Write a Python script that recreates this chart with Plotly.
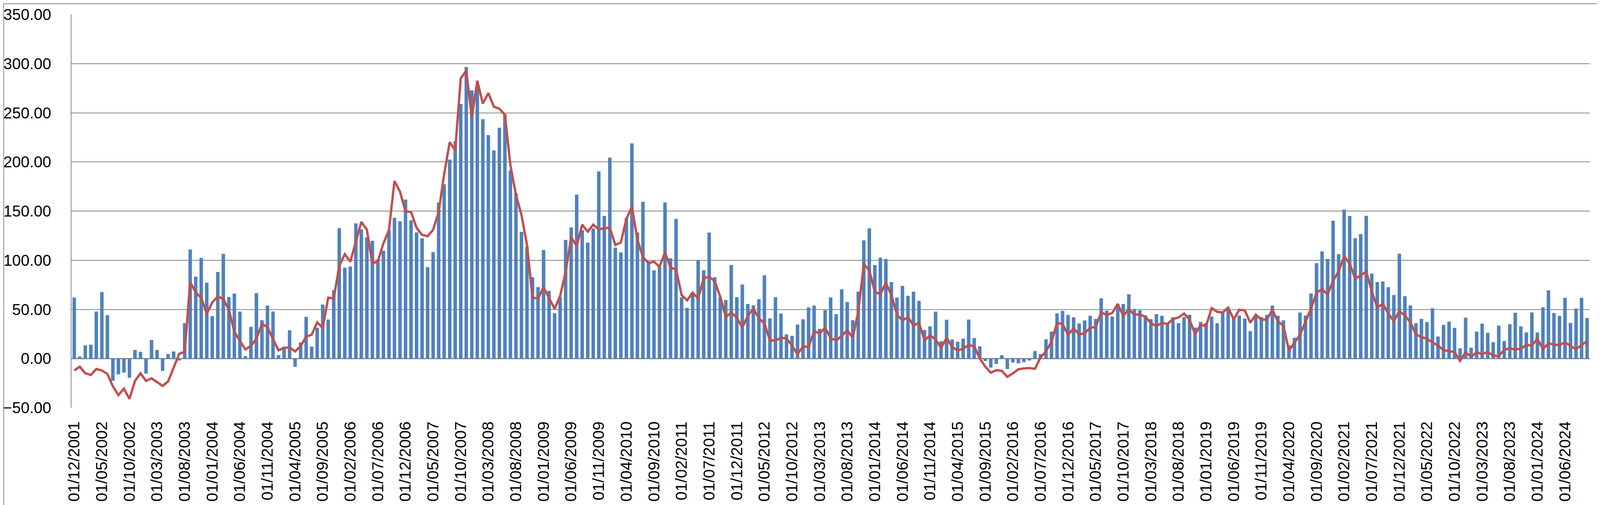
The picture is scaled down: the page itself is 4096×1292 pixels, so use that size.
import plotly.graph_objects as go

# Monthly categories 01/12/2001 .. 01/10/2024
start_year, start_month, n_months = 2001, 12, 275
categories = []
y, m = start_year, start_month
for _ in range(n_months):
    categories.append(f"01/{m:02d}/{y}")
    m += 1
    if m > 12:
        m = 1
        y += 1

bar_values = [
    62, 2.1, 13.4, 14, 47.8, 67.6, 44.1, -22.6, -16.1, -14.3,
    -19.6, 8.7, 6.8, -15.3, 18.9, 8.7, -12.6, 4.6, 7.2, -2,
    35.9, 110.9, 83.3, 102.3, 77.1, 43.1, 88.1, 106.6, 62.6, 66.1,
    47.7, 2.4, 32.2, 66.5, 39, 53.9, 47.9, 3.5, 12.2, 28.7,
    -8.4, 16.4, 42.4, 12.2, 31.3, 54.9, 39.7, 69.5, 132.6, 92.4,
    93.6, 137.5, 131.4, 123.4, 119.8, 100.7, 109.6, 130.6, 143.1, 139.6,
    161.7, 140.6, 128.3, 122.3, 92.9, 108.3, 158.6, 177.3, 202.4, 221,
    258.9, 296.5, 272.9, 277, 243.4, 227.3, 211.7, 234.8, 248.4, 191.5,
    168, 128.9, 113.5, 82.7, 72.7, 110.3, 68.8, 46.1, 62.4, 120.7,
    133.4, 166.7, 130.5, 117.9, 132.3, 190.4, 145, 204.4, 112.8, 108,
    142.6, 218.9, 128.2, 159.4, 98.9, 89.7, 93, 158.7, 102, 142,
    62.3, 51.5, 66, 100, 89.8, 128.1, 82.7, 62.5, 59.5, 95.1,
    62.3, 75.2, 55.6, 54.1, 60.3, 84.7, 40.9, 62.3, 45.7, 24.6,
    23.1, 34.6, 39.9, 52, 53.9, 30.2, 49.2, 62.1, 45.1, 70.4,
    57.5, 39, 68.1, 120.3, 132.4, 95, 102.6, 101.3, 77.7, 62,
    73.9, 63.8, 68, 58.6, 29, 32.7, 47.7, 17.6, 39.5, 19.4,
    17.1, 20.3, 39.7, 20.8, 12.4, -2.5, -9.2, -5.5, 3.4, -10.7,
    -4, -4.8, -3.7, -2, 7.6, 4.6, 19.6, 27.4, 45.9, 48.4,
    44.3, 41.9, 35.7, 38.8, 43.4, 40.3, 61.2, 48.8, 42.6, 55.5,
    55.5, 65.4, 50.4, 49.1, 43.8, 40.1, 45.1, 43.4, 35, 41.9,
    36, 42.1, 44.5, 31.5, 37.3, 36, 42.7, 36, 46.8, 50.7,
    41, 43.7, 40.7, 27.9, 44.6, 42.2, 44.4, 53.8, 43.5, 38.9,
    13.5, 21.1, 46.8, 43.7, 66.2, 97, 108.9, 101.4, 140.3, 106.2,
    151.5, 145, 122.5, 126.5, 145.2, 86.4, 77.8, 78.4, 72.6, 64.6,
    106.7, 63.4, 54, 35.9, 40.4, 37.1, 51.2, 22.4, 34.2, 37.6,
    31.2, 10.4, 41.6, 11.1, 27.4, 35.5, 26.2, 16.6, 33.5, 17.8,
    34.9, 46.6, 32.7, 26.5, 46.9, 26.5, 52.1, 69.4, 46.3, 43.4,
    61.7, 36.2, 50.8, 61.7, 41.4,
]

line_values = [
    -12.2, -8.3, -15, -16.7, -10.6, -12.2, -15.6, -28.3, -37.2, -30.6,
    -41.1, -22.8, -15, -22.8, -20.2, -23.9, -27.8, -23.3, -9.4, 4.7,
    6.9, 77.8, 67.2, 61.7, 45.6, 57.2, 63.1, 60.5, 49.8, 27.2,
    18, 9.2, 12.9, 20.2, 35.5, 31.8, 19.7, 8.4, 10.7, 11.4,
    7.2, 12.6, 22.3, 24.2, 36.7, 31.3, 61.9, 61.1, 94.2, 106.2,
    98.4, 118.3, 139, 131.1, 96.5, 99, 117.2, 130.6, 180.6, 169.7,
    149.7, 149.1, 133, 125.8, 124.4, 131, 149.1, 187.6, 220.1, 211.9,
    285, 292.8, 245.5, 282.6, 259.3, 270, 256.2, 254.1, 247.9, 196.5,
    166.6, 146, 115.5, 62.1, 61, 72.4, 61, 50.5, 63.7, 88.2,
    123.4, 114.4, 136.2, 129.1, 136.2, 131.3, 132.6, 132.9, 115.5, 118,
    142.1, 154.5, 120.7, 103.3, 97, 98.5, 93.3, 108, 92.5, 90.6,
    64.6, 59.2, 67.1, 60.9, 81.9, 83.1, 78.6, 63, 42, 46.8,
    41.6, 31.5, 43.5, 50.7, 40.9, 35.7, 18.5, 18.3, 21.1, 20.5,
    13, 4.3, 12.4, 11.6, 27.9, 25.5, 31.3, 20.7, 18.4, 23,
    28.7, 21.2, 47.7, 95.8, 89.8, 67.8, 65.4, 76.9, 64.5, 44.7,
    38.6, 42.3, 33.6, 36.2, 18.4, 23.6, 19.4, 10.7, 21.2, 11.6,
    8.3, 10, 13.7, 12.4, 0.1, -8.2, -14.4, -11.8, -12.6, -18.6,
    -15.1, -11, -10, -9.7, -10.5, 1, 7.4, 17.2, 36.3, 35.2,
    24, 30.7, 24.6, 25.7, 31.4, 32, 47, 44.2, 46.4, 55.5,
    43.3, 50.1, 44.6, 44.8, 42.4, 36, 32.9, 36.3, 35.2, 40.1,
    41.8, 45.7, 39.8, 24.6, 34.3, 33.2, 51.2, 47.6, 46.8, 51.8,
    39.8, 49.6, 49, 36.5, 44.6, 39.6, 39.6, 49.6, 37.7, 33.5,
    8, 16, 24.1, 37.4, 50.7, 66.8, 70.6, 65.1, 79, 88.9,
    103.9, 96.7, 81.2, 84.5, 88.4, 68.4, 51.8, 55.7, 45.7, 37.9,
    48.2, 43.8, 36.8, 24.6, 21.8, 20.2, 16.3, 13.2, 8.3, 7.7,
    6.5, -2.4, 6.3, 1.7, 6.5, 4.5, 6.7, 3, 2.4, 8.9,
    10.2, 9.3, 9.9, 13.9, 13.1, 20.2, 9.6, 15.6, 14.1, 13.7,
    16.3, 12.8, 9.5, 13.7, 17.6,
]

tick_labels = categories[::5]

W, H = 4096, 1292
ML, MR, MT, MB = 175, 34, 29, 257
PW, PH = W - ML - MR, H - MT - MB
GRID = "#878787"
FONT = "Liberation Sans"

fig = go.Figure()
fig.add_trace(go.Bar(x=categories, y=bar_values, marker=dict(color="#4F81BD", line=dict(width=0)),
                     showlegend=False))
fig.add_trace(go.Scatter(x=categories, y=line_values, mode="lines",
                         line=dict(color="#C0504D", width=6), showlegend=False))

fig.update_layout(
    width=W, height=H,
    margin=dict(l=ML, r=MR, t=MT, b=MB, autoexpand=False),
    paper_bgcolor="white", plot_bgcolor="white",
    bargap=0.37,
    font=dict(family=FONT, size=40, color="black"),
    shapes=[dict(type="rect", xref="paper", yref="paper",
                 x0=-(ML - 1.5) / PW, x1=1 + (MR - 2.5) / PW,
                 y0=-(MB - 2.5) / PH, y1=1 + (MT - 1.5) / PH,
                 line=dict(color=GRID, width=2), layer="below")],
)
fig.update_yaxes(range=[-50, 350], dtick=50, tick0=0, tickformat=".2f",
                 showgrid=True, gridcolor=GRID, gridwidth=1.5,
                 zeroline=True, zerolinecolor=GRID, zerolinewidth=2.5,
                 showline=True, linecolor=GRID, linewidth=2,
                 ticks="", ticklabelstandoff=42,
                 tickfont=dict(family=FONT, size=40, color="black"))
fig.update_xaxes(type="category", tickmode="array", tickvals=tick_labels, ticktext=tick_labels,
                 tickangle=-90, showgrid=False, showline=False, ticks="",
                 ticklabelstandoff=26,
                 tickfont=dict(family=FONT, size=41, color="black"))

fig.write_html("out.html")
